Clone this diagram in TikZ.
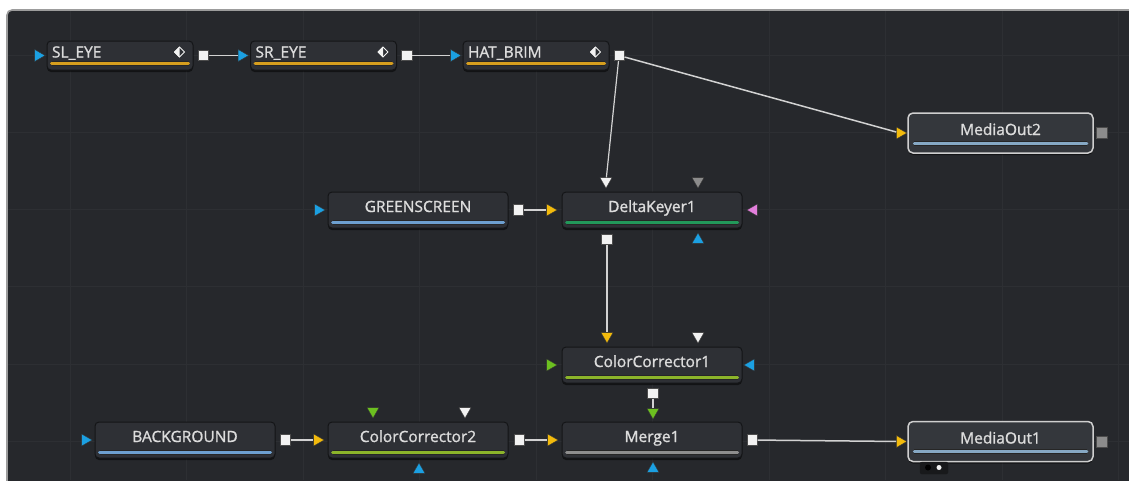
\documentclass[tikz,border=0pt]{standalone}
\usepackage{fontspec}
\setmainfont{Open Sans}[FakeBold=1.2]
\usetikzlibrary{positioning,shapes.geometric,shadows}
\definecolor{panel}{HTML}{26282C}
\definecolor{gridc}{HTML}{2D2F33}
\definecolor{rim}{HTML}{9C9C9C}
\definecolor{toolbg}{HTML}{2E3035}
\definecolor{tooledge}{HTML}{141517}
\definecolor{outbg}{HTML}{34373C}
\definecolor{outedge}{HTML}{CFCFCF}
\definecolor{txt}{HTML}{DCDCDC}
\definecolor{wire}{HTML}{D2D2D2}
\definecolor{cOrange}{HTML}{D69E1E}
\definecolor{cBlue}{HTML}{6D9FCF}
\definecolor{cOutBlue}{HTML}{86A8C4}
\definecolor{cGreen}{HTML}{22985A}
\definecolor{cLime}{HTML}{8CB42A}
\definecolor{cGray}{HTML}{8E8E8E}
\definecolor{pBlue}{HTML}{1BA0E2}
\definecolor{pYellow}{HTML}{F2BA0C}
\definecolor{pGreen}{HTML}{6CC020}
\definecolor{pPink}{HTML}{E27FDC}
\definecolor{pGray}{HTML}{8C8C8C}
\definecolor{pWhite}{HTML}{F2F2F2}
\definecolor{tabc}{HTML}{18191B}
\newcommand\keyicon[1]{\begin{scope}[shift={(#1)}]
  \fill[pWhite] (-5.5,0)--(0,-5.5)--(0,5.5)--cycle;
  \draw[pWhite,line width=1] (-5,0)--(0,-5)--(5,0)--(0,5)--cycle;
\end{scope}}
\begin{document}
\begin{tikzpicture}[x=1pt, y=-1pt, font=\fontsize{15.5}{17}\selectfont, line join=round,
  tool/.style={draw=tooledge, line width=1, fill=toolbg, rounded corners=4, minimum width=180, minimum height=36,
    inner sep=0, text height=9, text depth=5, text=txt,
    drop shadow={shadow xshift=0pt, shadow yshift=-2pt, opacity=.5, fill=black}},
  eyetool/.style={tool, minimum width=146, minimum height=29, text width=136, align=left},
  outtool/.style={tool, draw=outedge, line width=1.5, fill=outbg, rounded corners=5, minimum width=185, minimum height=40},
  port/.style={regular polygon, regular polygon sides=3, minimum size=14, inner sep=0, draw=black!80, line width=0.4},
  inR/.style={port, shape border rotate=-90, fill=#1},
  inL/.style={port, shape border rotate=90, fill=#1},
  inD/.style={port, shape border rotate=180, fill=#1},
  inU/.style={port, fill=#1},
  outsq/.style={rectangle, minimum size=10.5, inner sep=0, fill=pWhite, draw=black!70, line width=0.6},
  bar/.style={line width=3, line cap=round, draw=#1, preaction={draw=black!85, line width=5}},
  wire/.style={draw=wire, line width=1.5},
  gridline/.style={draw=gridc, line width=0.8}]
\useasboundingbox (0,0) rectangle (1129,480);
\fill[white] (0,0) rectangle (1129,480);
\fill[panel, rounded corners=5] (7,10) rectangle (1145,495);
\foreach \gx in {0,...,9} \draw[gridline] ({70+116.5*\gx},11) -- ++(0,469);
\foreach \gy in {0,...,5} \draw[gridline] (8,{55.5+77.1*\gy}) -- ++(1121,0);
\draw[rim, line width=1.6, rounded corners=5] (7,495) -- (7,10) -- (1145,10);

\node[eyetool] (sleye) at (120,55.5) {SL\_EYE};
\node[eyetool] (sreye) at (323.5,55.5) {SR\_EYE};
\node[eyetool] (hatbrim) at (536,55.5) {HAT\_BRIM};
\node[outtool] (mout2) at (1000.5,133) {MediaOut2};
\node[tool] (green) at (418,210) {GREENSCREEN};
\node[tool] (dkey) at (652,210) {DeltaKeyer1};
\node[tool] (cc1) at (652,365) {ColorCorrector1};
\node[tool] (bg) at (185,440) {BACKGROUND};
\node[tool] (cc2) at (418,440) {ColorCorrector2};
\node[tool] (merge) at (652,440) {Merge1};
\node[outtool] (mout1) at (1000.5,441.5) {MediaOut1};

\foreach \n in {sleye,sreye,hatbrim}{
  \draw[bar=cOrange] ([xshift=5,yshift=-7.5]\n.west) -- ([xshift=-5,yshift=-7.5]\n.east);
  \coordinate (\n-key) at ([xshift=-14,yshift=3.5]\n.east);
  \keyicon{\n-key}
  \node[inR=pBlue, left=1pt of \n] (\n-in) {};
  \node[outsq, right=4pt of \n] (\n-out) {};
}
\draw[bar=cBlue] ([xshift=5,yshift=-12]green.west) -- ([xshift=-5,yshift=-12]green.east);
\draw[bar=cBlue] ([xshift=5,yshift=-12]bg.west) -- ([xshift=-5,yshift=-12]bg.east);
\draw[bar=cGreen] ([xshift=5,yshift=-12]dkey.west) -- ([xshift=-5,yshift=-12]dkey.east);
\draw[bar=cLime] ([xshift=5,yshift=-12]cc1.west) -- ([xshift=-5,yshift=-12]cc1.east);
\draw[bar=cLime] ([xshift=5,yshift=-12]cc2.west) -- ([xshift=-5,yshift=-12]cc2.east);
\draw[bar=cGray] ([xshift=5,yshift=-12]merge.west) -- ([xshift=-5,yshift=-12]merge.east);
\draw[bar=cOutBlue] ([xshift=7,yshift=-10]mout2.west) -- ([xshift=-7,yshift=-10]mout2.east);
\draw[bar=cOutBlue] ([xshift=7,yshift=-10]mout1.west) -- ([xshift=-7,yshift=-10]mout1.east);

\node[inR=pYellow, left=0pt of mout2] (mout2-in) {};
\node[outsq, fill=pGray, minimum size=11, right=2pt of mout2] (mout2-out) {};
\node[inR=pYellow, left=0pt of mout1] (mout1-in) {};
\node[outsq, fill=pGray, minimum size=11, right=2pt of mout1] (mout1-out) {};

\node[inR=pBlue, left=2pt of green] (green-in) {};
\node[outsq, right=4pt of green] (green-out) {};
\node[inR=pYellow, left=4pt of dkey] (dkey-bg) {};
\node[inL=pPink, right=4pt of dkey] (dkey-side) {};
\node[inD=pWhite, anchor=south] (dkey-fg) at ([xshift=-46,yshift=3]dkey.north) {};
\node[inD=pGray, anchor=south] (dkey-gm) at ([xshift=46,yshift=3]dkey.north) {};
\node[outsq, anchor=north] (dkey-out) at ([xshift=-45,yshift=-5]dkey.south) {};
\node[inU=pBlue, anchor=north] (dkey-eff) at ([xshift=46,yshift=-4]dkey.south) {};

\node[inD=pYellow, anchor=south] (cc1-in) at ([xshift=-45,yshift=3]cc1.north) {};
\node[inD=pWhite, anchor=south] (cc1-mm) at ([xshift=46,yshift=3]cc1.north) {};
\node[inR=pGreen, left=4pt of cc1] (cc1-ref) {};
\node[inL=pBlue, right=1pt of cc1] (cc1-eff) {};
\node[outsq, anchor=north] (cc1-out) at ([xshift=1,yshift=-4]cc1.south) {};

\node[inR=pBlue, left=2pt of bg] (bg-in) {};
\node[outsq, right=4pt of bg] (bg-out) {};
\node[inR=pYellow, left=3pt of cc2] (cc2-in) {};
\node[inD=pGreen, anchor=south] (cc2-ref) at ([xshift=-45,yshift=3]cc2.north) {};
\node[inD=pWhite, anchor=south] (cc2-mm) at ([xshift=47,yshift=3]cc2.north) {};
\node[inU=pBlue, anchor=north] (cc2-eff) at ([xshift=1,yshift=-4]cc2.south) {};
\node[outsq, right=5pt of cc2] (cc2-out) {};
\node[inR=pYellow, left=3pt of merge] (merge-bg) {};
\node[inD=pGreen, anchor=south] (merge-fg) at ([xshift=1,yshift=2]merge.north) {};
\node[inU=pBlue, anchor=north] (merge-eff) at ([xshift=1,yshift=-3]merge.south) {};
\node[outsq, right=4pt of merge] (merge-out) {};

\draw[tabc, fill=tabc, rounded corners=2] (920,462) rectangle (948,474);
\fill[black] (928,467.5) circle (3);
\fill[pWhite] (939,467.5) circle (2.5);

\draw[wire] (sleye-out) -- (sreye-in);
\draw[wire] (sreye-out) -- (hatbrim-in);
\draw[wire] (hatbrim-out) -- (mout2-in);
\draw[wire, line width=1.2] (hatbrim-out) -- (dkey-fg);
\draw[wire] (green-out) -- (dkey-bg);
\draw[wire, line width=1.2] (dkey-out) -- (cc1-in);
\draw[wire] (cc1-out) -- (merge-fg);
\draw[wire] (bg-out) -- (cc2-in);
\draw[wire] (cc2-out) -- (merge-bg);
\draw[wire] (merge-out) -- (mout1-in);
\end{tikzpicture}
\end{document}
